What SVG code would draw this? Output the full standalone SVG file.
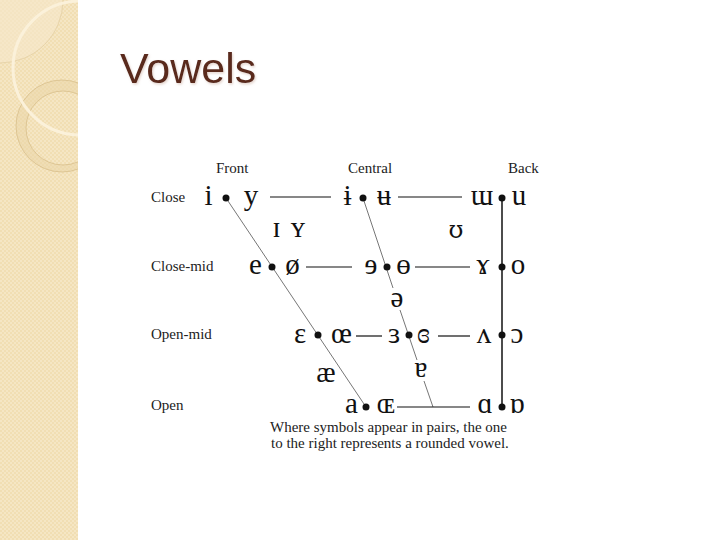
<svg xmlns="http://www.w3.org/2000/svg" width="720" height="540" viewBox="0 0 720 540">
  <defs>
    <pattern id="chk" width="4" height="4" patternUnits="userSpaceOnUse">
      <rect width="4" height="4" fill="#F1DEB3"/>
      <rect width="2" height="2" fill="#F5E6C4"/>
      <rect x="2" y="2" width="2" height="2" fill="#F5E6C4"/>
    </pattern>
    <clipPath id="side"><rect x="0" y="0" width="78" height="540"/></clipPath>
    <filter id="sh" x="-10%" y="-10%" width="120%" height="130%">
      <feDropShadow dx="1" dy="1.5" stdDeviation="0.8" flood-color="#C8A89A" flood-opacity="0.5"/>
    </filter>
  </defs>
  <style>
    .lbl { font-family: "Liberation Serif", "Times New Roman", serif; font-size: 15px; fill: #222; }
    .v { font-family: "Liberation Serif", "DejaVu Serif", serif; font-size: 29px; fill: #111; text-anchor: middle; }
    .dj { font-family: "DejaVu Serif", serif; font-size: 24px; }
    .dot { fill: #111; }
    .h { stroke: #111; stroke-width: 1.2; fill: none; }
    .d { stroke: #666; stroke-width: 0.9; fill: none; }
  </style>
  <rect width="720" height="540" fill="#FFFFFF"/>
  <g id="sidebar" clip-path="url(#side)">
    <rect x="0" y="0" width="78" height="540" fill="url(#chk)"/>
    <circle cx="0" cy="0" r="63" fill="#F6E8CB" fill-opacity="0.6" stroke="#E3CFA3" stroke-width="0.8"/>
    <circle cx="62" cy="126" r="46" fill="#E9D4A6" fill-opacity="0.5" stroke="#D8BF8C" stroke-width="0.8"/>
    <circle cx="63" cy="128" r="37" fill="url(#chk)" stroke="#D8BF8C" stroke-width="0.8"/>
    <circle cx="80" cy="68" r="67" fill="none" stroke="#FBF1DA" stroke-width="3"/>
  </g>
  <text id="title" x="120" y="83" font-family="'Liberation Sans', Arial, sans-serif" font-size="43" fill="#5A2A1E" filter="url(#sh)">Vowels</text>

  <g id="headers">
    <text class="lbl" x="216" y="173">Front</text>
    <text class="lbl" x="348" y="173">Central</text>
    <text class="lbl" x="508" y="173">Back</text>
    <text class="lbl" x="151" y="202">Close</text>
    <text class="lbl" x="151" y="271">Close-mid</text>
    <text class="lbl" x="151" y="339">Open-mid</text>
    <text class="lbl" x="151" y="410">Open</text>
  </g>

  <g id="connectors">
    <line class="d" x1="226" y1="198" x2="366" y2="407"/>
    <line class="d" x1="363" y1="198" x2="393" y2="288"/>
    <line class="d" x1="400" y1="310" x2="417" y2="360"/>
    <line class="d" x1="424" y1="381" x2="433" y2="407"/>
    <line class="h" x1="270" y1="197" x2="331" y2="197"/>
    <line class="h" x1="398" y1="197" x2="462" y2="197"/>
    <line class="h" x1="306" y1="267" x2="352" y2="267"/>
    <line class="h" x1="415" y1="267" x2="470" y2="267"/>
    <line class="h" x1="356" y1="336" x2="382" y2="336"/>
    <line class="h" x1="438" y1="336" x2="470" y2="336"/>
    <line class="h" x1="397" y1="407" x2="470" y2="407"/>
    <line x1="502" y1="198" x2="502" y2="407" stroke="#111" stroke-width="1.5"/>
  </g>

  <g id="close">
    <text class="v" x="208.5" y="205">i</text>
    <circle class="dot" cx="226" cy="198" r="3.5"/>
    <text class="v" x="251" y="205">y</text>
    <text class="v" x="347.5" y="205">ɨ</text>
    <circle class="dot" cx="363" cy="198" r="3.5"/>
    <text class="v" x="384" y="205">ʉ</text>
    <text class="v" x="482" y="205">ɯ</text>
    <circle class="dot" cx="502" cy="198" r="3.5"/>
    <text class="v" x="519" y="205">u</text>
  </g>
  <g id="near-close">
    <text class="v" x="276.5" y="237">ɪ</text>
    <text class="v" x="298" y="237">ʏ</text>
    <text class="v dj" x="456" y="238">ʊ</text>
  </g>
  <g id="close-mid">
    <text class="v" x="255.5" y="274">e</text>
    <circle class="dot" cx="272" cy="267" r="3.5"/>
    <text class="v" x="292.5" y="274">ø</text>
    <text class="v" x="371" y="274">ɘ</text>
    <circle class="dot" cx="387" cy="267" r="3.5"/>
    <text class="v" x="403.5" y="274">ɵ</text>
    <text class="v" x="483" y="274">ɤ</text>
    <circle class="dot" cx="502" cy="267" r="3.5"/>
    <text class="v" x="518" y="274">o</text>
  </g>
  <g id="mid">
    <text class="v" x="397" y="307">ə</text>
  </g>
  <g id="open-mid">
    <text class="v" x="300" y="343">ɛ</text>
    <circle class="dot" cx="318" cy="335" r="3.5"/>
    <text class="v" x="341.5" y="343">œ</text>
    <text class="v" x="394" y="343">ɜ</text>
    <circle class="dot" cx="409" cy="335" r="3.5"/>
    <text class="v" x="423.5" y="343">ɞ</text>
    <text class="v" x="484" y="343">ʌ</text>
    <circle class="dot" cx="502" cy="335" r="3.5"/>
    <text class="v" x="517" y="343">ɔ</text>
  </g>
  <g id="near-open">
    <text class="v" x="326" y="382">æ</text>
    <text class="v" x="421" y="377">ɐ</text>
  </g>
  <g id="open">
    <text class="v" x="351.5" y="413">a</text>
    <circle class="dot" cx="366" cy="407" r="3.5"/>
    <text class="v" x="386" y="413">ɶ</text>
    <text class="v" x="485" y="413">ɑ</text>
    <circle class="dot" cx="502" cy="407" r="3.5"/>
    <text class="v" x="517" y="413">ɒ</text>
  </g>
  <g id="caption">
    <text class="lbl" x="270" y="432">Where symbols appear in pairs, the one</text>
    <text class="lbl" x="271" y="448">to the right represents a rounded vowel.</text>
  </g>
</svg>
